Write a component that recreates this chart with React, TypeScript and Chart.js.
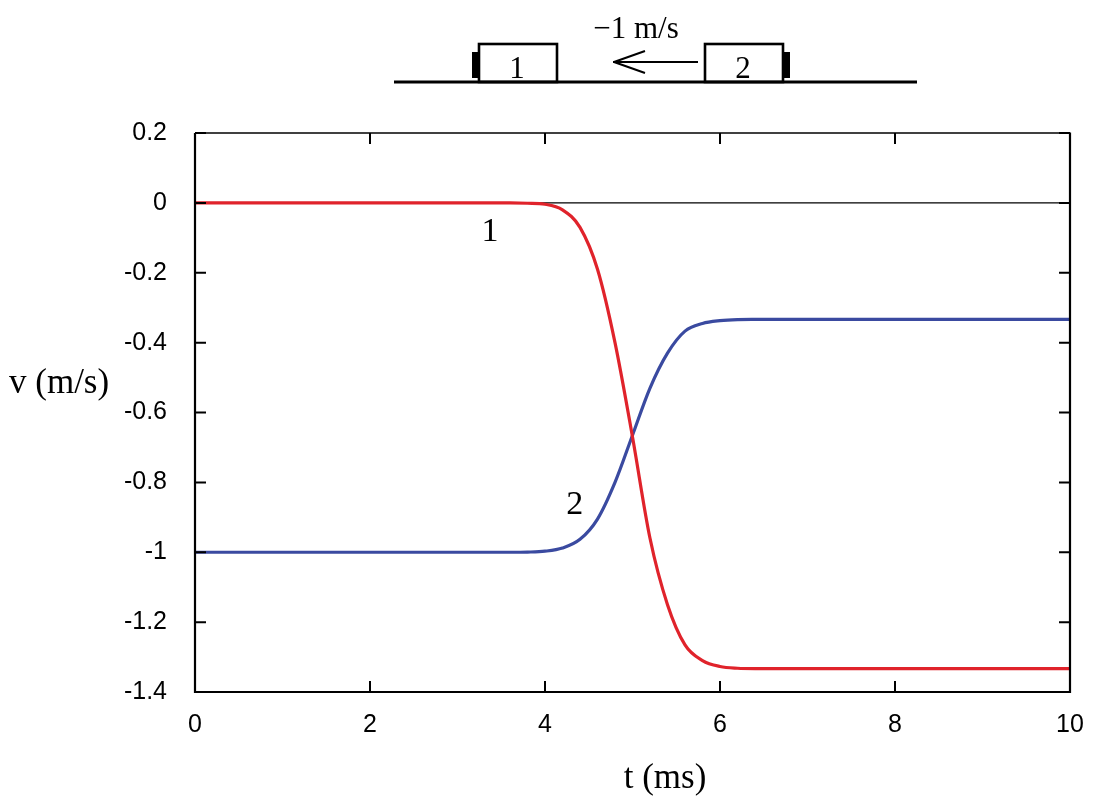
import { useEffect, useRef } from 'react';
import { Chart, registerables } from 'chart.js';

Chart.register(...registerables);

// time in ms
const times = [0, 1, 2, 3, 3.6, 3.8, 4.0, 4.2, 4.4, 4.6, 4.8, 5.0, 5.2, 5.4, 5.6, 5.8, 6.0, 6.2, 6.4, 7, 8, 9, 10];
// velocity of block 1 (red)
const velocity1 = [0, 0, 0, 0, 0, -0.001, -0.004, -0.02, -0.07, -0.19, -0.4, -0.67, -0.96, -1.15, -1.265, -1.31, -1.327, -1.332, -1.333, -1.333, -1.333, -1.333, -1.333];
// velocity of block 2 (blue)
const velocity2 = [-1, -1, -1, -1, -1, -0.9995, -0.997, -0.988, -0.963, -0.905, -0.8, -0.665, -0.53, -0.43, -0.367, -0.345, -0.337, -0.334, -0.3335, -0.3333, -0.3333, -0.3333, -0.3333];

const xTicks = [0, 2, 4, 6, 8, 10];
const yTicks = [0.2, 0, -0.2, -0.4, -0.6, -0.8, -1, -1.2, -1.4];

const curveLabels = [
	{text: '1', t: 3.37, v: -0.085},
	{text: '2', t: 4.34, v: -0.865}
];

const serif = '"Liberation Serif", "DejaVu Serif", serif';
const sans = '"Liberation Sans", Arial, sans-serif';

const decorations = {
	id: 'decorations',
	afterDatasetsDraw(chart: any) {
		const {ctx, chartArea: area, scales} = chart;
		const x = scales.x;
		const y = scales.y;
		ctx.save();
		ctx.strokeStyle = '#000';
		ctx.fillStyle = '#000';
		ctx.lineCap = 'butt';

		// frame
		ctx.lineWidth = 1.3;
		ctx.beginPath();
		ctx.moveTo(area.left, area.top);
		ctx.lineTo(area.right, area.top);
		ctx.stroke();
		ctx.lineWidth = 2.2;
		ctx.beginPath();
		ctx.moveTo(area.left, area.top);
		ctx.lineTo(area.left, area.bottom);
		ctx.lineTo(area.right, area.bottom);
		ctx.lineTo(area.right, area.top - 0.6);
		ctx.stroke();

		// inward ticks, mirrored
		const len = 11;
		ctx.lineWidth = 2;
		ctx.beginPath();
		xTicks.forEach((t) => {
			const px = x.getPixelForValue(t);
			ctx.moveTo(px, area.bottom);
			ctx.lineTo(px, area.bottom - len);
			ctx.moveTo(px, area.top);
			ctx.lineTo(px, area.top + len);
		});
		yTicks.forEach((v) => {
			const py = y.getPixelForValue(v);
			ctx.moveTo(area.left, py);
			ctx.lineTo(area.left + len, py);
			ctx.moveTo(area.right, py);
			ctx.lineTo(area.right - len, py);
		});
		ctx.stroke();

		// axis titles
		ctx.font = `35px ${serif}`;
		ctx.textAlign = 'center';
		ctx.textBaseline = 'middle';
		ctx.fillText('t (ms)', 665, 779);
		ctx.textAlign = 'left';
		ctx.fillText('v (m/s)', 9, 384);

		// curve labels
		ctx.textAlign = 'center';
		ctx.font = `34px ${serif}`;
		curveLabels.forEach((l) => {
			ctx.fillText(l.text, x.getPixelForValue(l.t), y.getPixelForValue(l.v));
		});

		// schematic of the two blocks
		ctx.lineWidth = 3;
		ctx.beginPath();
		ctx.moveTo(394, 82);
		ctx.lineTo(917, 82);
		ctx.stroke();
		ctx.lineWidth = 2.6;
		ctx.strokeRect(479, 44, 78, 38);
		ctx.strokeRect(705, 44, 78, 38);
		ctx.fillRect(472, 52, 7, 26);
		ctx.fillRect(783, 52, 7, 26);
		// arrow
		ctx.lineWidth = 2;
		ctx.beginPath();
		ctx.moveTo(698, 62);
		ctx.lineTo(613, 62);
		ctx.moveTo(614, 62);
		ctx.lineTo(645, 51);
		ctx.moveTo(614, 62);
		ctx.lineTo(645, 73);
		ctx.stroke();
		ctx.font = `31px ${serif}`;
		ctx.textBaseline = 'alphabetic';
		ctx.fillText('\u22121 m/s', 636, 38);
		ctx.fillText('1', 517, 78);
		ctx.fillText('2', 743, 78);
		ctx.restore();
	}
};

export default function App() {
	const canvasRef = useRef<HTMLCanvasElement>(null);

	useEffect(() => {
		if (!canvasRef.current) return;
		const chart = new Chart(canvasRef.current.getContext('2d') as CanvasRenderingContext2D, {
			type: 'line',
			data: {
				datasets: [
					{
						data: [{x: 0, y: 0}, {x: 10, y: 0}],
						borderColor: '#000',
						borderWidth: 1.2,
						pointRadius: 0,
						order: 3
					},
					{
						data: times.map((t, i) => ({x: t, y: velocity2[i]})),
						borderColor: '#3a4aa0',
						borderWidth: 3.2,
						pointRadius: 0,
						cubicInterpolationMode: 'monotone',
						order: 2
					},
					{
						data: times.map((t, i) => ({x: t, y: velocity1[i]})),
						borderColor: '#e0232b',
						borderWidth: 3.2,
						pointRadius: 0,
						cubicInterpolationMode: 'monotone',
						order: 1
					}
				]
			},
			options: {
				animation: false,
				responsive: true,
				maintainAspectRatio: false,
				layout: {padding: {top: 133, right: 29, left: 0, bottom: 0}},
				plugins: {legend: {display: false}, tooltip: {enabled: false}},
				scales: {
					x: {
						type: 'linear',
						min: 0,
						max: 10,
						border: {display: false},
						grid: {display: false},
						afterBuildTicks: (s: any) => {
							s.ticks = xTicks.map((v) => ({value: v}));
						},
						afterFit: (s: any) => {
							s.height = 112;
						},
						ticks: {
							color: '#000',
							padding: 10,
							maxRotation: 0,
							font: {family: sans, size: 25},
							callback: (v: any) => String(v)
						}
					},
					y: {
						type: 'linear',
						min: -1.4,
						max: 0.2,
						border: {display: false},
						grid: {display: false},
						afterBuildTicks: (s: any) => {
							s.ticks = yTicks.map((v) => ({value: v}));
						},
						afterFit: (s: any) => {
							s.width = 195;
						},
						ticks: {
							color: '#000',
							padding: 20,
							font: {family: sans, size: 25},
							callback: (v: any) => String(Number(Number(v).toFixed(1)))
						}
					}
				}
			},
			plugins: [decorations]
		});
		return () => {
			chart.destroy();
		};
	}, []);

	return (
		<div style={{position: 'fixed', left: 0, top: 0, width: 1099, height: 804, background: '#fff'}}>
			<canvas ref={canvasRef} />
		</div>
	);
}
